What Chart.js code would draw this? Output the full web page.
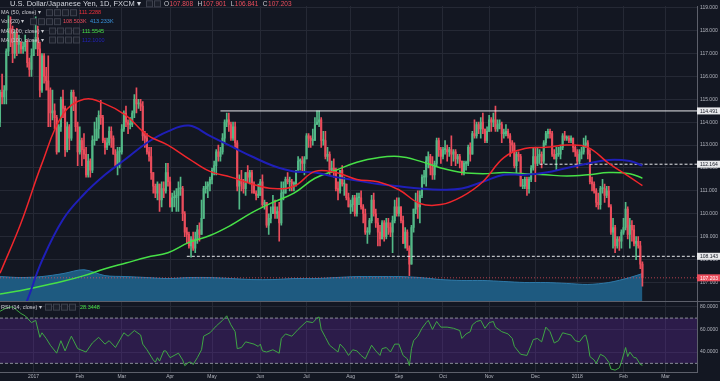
<!DOCTYPE html>
<html>
<head>
<meta charset="utf-8">
<title>U.S. Dollar/Japanese Yen, 1D, FXCM</title>
<script src="https://cdn.jsdelivr.net/npm/chart.js@4/dist/chart.umd.min.js"></script>
<style>
html,body{margin:0;padding:0;background:#131722;overflow:hidden;}
canvas{display:block;}
</style>
</head>
<body>
<canvas id="chart" width="720" height="381"></canvas>
<script>
// ================= DATA =================
const monthLabels   = ['2017','Feb','Mar','Apr','May','Jun','Jul','Aug','Sep','Oct','Nov','Dec','2018','Feb','Mar'];
const monthStartBar = [16, 38, 58, 81, 101, 124, 146, 167, 190, 211, 233, 255, 275, 297, 317];

// daily candles, 9 Dec 2016 .. 14 Feb 2018
const opens = [
114.0,115.3,115.1,115.4,117.1,118.1,117.9,117.0,117.9,117.4,117.5,117.2,117.3,117.5,116.6,116.3,
116.9,117.5,117.7,117.2,115.4,116.9,116.0,115.8,115.4,114.4,114.5,114.2,112.7,113.8,115.0,114.6,112.8,113.8,113.3,115.3,115.1,113.8,
112.7,113.2,112.8,112.6,111.7,112.3,111.9,113.2,113.2,113.7,114.3,114.2,113.2,112.9,113.1,113.6,113.3,112.6,112.1,112.7,
112.7,113.7,114.4,114.0,113.9,113.9,114.4,115.0,114.8,114.8,114.7,113.4,113.3,112.7,112.5,111.8,111.2,110.9,111.3,110.6,111.1,111.0,111.8,
111.4,110.3,110.7,110.7,110.8,111.1,111.1,110.0,109.2,109.1,108.6,108.9,108.5,108.9,109.3,109.1,109.8,111.1,111.2,111.3,
111.5,111.9,112.1,112.7,112.5,112.7,113.3,114.0,114.1,113.9,113.3,113.8,113.1,111.2,111.5,111.3,111.1,111.8,111.6,111.8,111.3,110.9,110.8,
110.8,111.4,110.4,110.5,109.5,109.8,110.0,110.3,110.0,110.1,109.6,110.9,110.9,111.5,111.4,111.4,111.3,111.3,111.9,112.3,112.3,112.2,
112.4,113.4,113.3,113.2,113.2,113.9,114.0,114.1,113.2,113.2,112.5,112.6,111.9,112.0,111.9,111.1,111.0,111.9,111.3,111.3,110.7,
110.3,110.4,110.7,110.0,110.7,110.7,110.3,110.0,109.2,109.2,109.7,110.6,110.0,109.6,109.2,108.9,109.6,109.0,109.6,109.4,109.2,109.7,110.3,
110.0,110.3,109.7,108.7,109.2,108.5,107.8,109.4,110.2,110.5,110.3,110.8,111.6,111.6,112.3,112.5,112.0,111.7,112.2,113.2,112.8,
112.5,112.8,112.8,112.7,112.8,112.6,112.7,112.4,112.5,112.3,111.8,112.2,112.2,112.9,112.6,113.5,113.4,113.9,113.7,114.0,113.7,113.2,
113.6,114.1,114.0,114.1,113.7,113.9,113.9,113.5,113.5,113.6,113.4,113.1,113.0,112.1,112.6,112.5,111.2,111.2,111.5,111.1,111.5,112.0,
112.5,112.2,112.5,112.6,112.3,113.1,113.5,113.6,113.5,112.6,112.4,112.6,112.6,112.9,113.4,113.3,113.3,113.2,113.3,112.9,
112.7,112.3,112.6,112.7,113.0,113.1,112.6,111.4,111.3,111.0,110.5,110.4,111.1,111.1,110.8,111.0,110.3,109.2,109.4,108.6,108.9,108.8,
109.2,109.4,110.2,109.1,109.5,109.3,108.7,108.8,108.6,107.808];
const highs = [
115.4,116.1,115.6,117.2,118.66,118.6,118.2,118.0,118.1,117.8,117.5,117.5,117.8,117.6,116.8,117.2,
117.6,118.6,118.2,117.5,117.0,117.0,116.4,116.9,115.5,115.4,114.8,114.3,113.9,115.1,115.4,114.7,114.0,113.9,115.4,115.4,115.1,114.0,
113.8,113.3,113.5,112.9,112.6,112.4,113.4,114.0,114.2,114.5,114.95,114.3,113.3,113.3,113.8,113.8,113.4,112.8,112.9,112.9,
113.9,114.5,114.7,114.1,114.2,114.5,115.2,115.5,115.0,115.0,114.9,113.6,113.5,112.9,112.9,111.8,111.3,111.4,111.3,111.4,111.4,112.2,112.2,
111.6,110.9,111.0,111.1,111.4,111.6,111.2,110.1,109.4,109.2,109.0,109.2,109.2,109.5,109.6,110.6,111.2,111.4,111.4,111.6,
112.0,112.3,112.8,113.0,112.9,113.5,114.1,114.4,114.4,114.0,114.0,114.0,113.2,111.7,111.9,111.5,111.8,112.1,111.9,111.9,111.4,111.0,111.3,
111.5,111.7,110.6,110.5,110.0,110.3,110.8,110.6,110.3,110.5,111.4,111.4,111.6,111.8,111.6,111.5,111.4,111.9,112.5,112.4,112.5,112.5,
113.5,113.5,113.4,113.7,114.2,114.5,114.5,114.2,113.6,113.6,112.9,112.7,112.3,112.4,112.0,111.4,111.9,112.1,111.6,111.3,110.9,
110.6,110.8,110.8,110.9,110.9,111.0,110.4,110.2,109.4,109.8,110.8,110.9,110.2,109.8,109.5,109.7,109.7,109.8,109.8,109.6,109.9,110.6,110.7,
110.7,110.3,109.9,109.4,109.3,108.6,109.5,110.2,110.9,111.0,111.0,111.7,111.9,112.5,112.7,112.6,112.5,112.3,113.3,113.3,112.9,
112.9,113.2,113.0,112.9,113.4,112.8,112.8,112.6,112.6,112.3,112.3,112.3,113.0,113.1,113.6,114.1,114.0,114.0,114.2,114.4,113.7,113.8,
114.3,114.2,114.4,114.7,114.1,114.1,114.0,113.7,113.9,113.7,113.5,113.2,113.1,112.7,112.7,112.6,111.5,111.6,111.6,111.6,112.1,112.9,
112.9,112.9,112.8,112.7,113.2,113.6,113.7,113.7,113.6,112.8,112.9,112.9,113.0,113.5,113.6,113.4,113.4,113.4,113.3,113.0,
112.8,112.8,112.9,113.3,113.4,113.2,112.8,111.6,111.4,111.1,110.9,111.2,111.5,111.3,111.2,111.2,110.4,109.8,109.5,109.0,109.0,109.3,
109.8,110.5,110.3,109.8,109.7,109.5,109.0,109.0,108.8,107.901];
const lows = [
113.8,114.8,114.8,114.8,116.9,117.3,116.6,116.8,116.9,117.0,117.0,117.0,117.1,116.4,116.0,116.0,
116.9,117.2,116.9,115.1,115.3,115.7,115.4,113.8,113.8,114.1,113.7,112.6,112.7,113.6,114.2,112.5,112.7,112.8,113.2,114.5,113.6,112.1,
112.6,112.1,112.4,111.6,111.6,111.6,111.8,113.0,113.2,113.3,113.9,113.1,112.6,112.8,113.0,112.9,112.6,112.1,111.7,112.0,
112.6,113.6,113.8,113.5,113.7,113.8,114.2,114.4,114.6,114.5,113.2,112.9,112.6,112.3,111.5,110.9,110.7,110.6,110.1,110.3,110.7,110.9,111.2,
110.3,110.1,110.3,110.1,110.1,110.8,109.7,109.0,108.7,108.5,108.1,108.4,108.3,108.7,108.8,109.1,109.8,110.9,110.7,111.0,
111.3,111.7,111.7,112.3,112.3,112.6,113.1,113.8,113.6,113.2,113.2,112.9,111.0,110.2,111.0,110.9,110.8,111.4,111.3,110.9,110.9,110.6,110.7,
110.8,110.3,110.2,109.4,109.1,109.6,110.0,109.8,109.8,108.8,109.5,110.6,110.9,111.3,111.0,111.0,111.0,111.2,111.9,111.9,111.8,111.7,
112.4,112.9,112.9,113.0,113.2,113.9,113.8,112.9,113.0,112.4,112.3,111.7,111.8,111.6,111.0,110.6,110.9,111.2,110.8,110.6,110.3,
110.0,110.1,109.9,109.9,110.4,110.2,109.6,109.1,108.7,109.1,109.6,109.9,109.4,108.6,108.6,108.9,108.8,108.9,109.1,109.0,108.3,109.6,109.9,
109.9,109.6,108.7,108.5,108.4,107.3,107.8,109.2,110.0,109.8,109.6,110.7,111.3,111.2,112.0,111.7,111.5,111.5,112.1,112.5,112.2,
112.4,112.6,112.3,112.5,112.1,112.3,112.1,112.2,112.0,111.7,111.7,111.9,112.1,112.3,112.6,113.3,113.3,113.5,113.3,113.5,113.1,113.1,
113.6,113.6,113.8,113.6,113.6,113.7,113.1,113.3,113.4,113.3,112.5,112.7,112.0,111.8,112.3,111.2,111.1,111.1,110.8,110.9,111.4,111.9,
111.4,112.1,112.2,112.0,112.2,113.0,113.3,113.3,112.5,112.4,111.9,112.5,112.4,112.8,113.2,113.2,113.1,113.1,112.7,112.5,
112.0,112.1,112.4,112.6,112.9,112.4,111.3,111.0,110.9,110.3,110.2,110.2,110.9,110.5,110.7,110.3,109.1,108.5,108.3,108.5,108.4,108.5,
109.1,109.3,108.9,108.5,108.8,108.6,108.0,108.5,107.6,106.841];
const closes = [
115.3,115.1,115.4,117.1,118.1,117.9,117.0,117.9,117.4,117.5,117.2,117.3,117.5,116.6,116.3,116.9,
117.5,117.7,117.2,115.4,116.9,116.0,115.8,115.4,114.4,114.5,114.2,112.7,113.8,115.0,114.6,112.8,113.8,113.3,115.3,115.1,113.8,112.7,
113.2,112.8,112.6,111.7,112.3,111.9,113.2,113.2,113.7,114.3,114.2,113.2,112.9,113.1,113.6,113.3,112.6,112.1,112.7,112.7,
113.7,114.4,114.0,113.9,113.9,114.4,115.0,114.8,114.8,114.7,113.4,113.3,112.7,112.5,111.8,111.2,110.9,111.3,110.6,111.1,111.0,111.8,111.4,
110.3,110.7,110.7,110.8,111.1,111.1,110.0,109.2,109.1,108.6,108.9,108.5,108.9,109.3,109.1,109.8,111.1,111.2,111.3,111.5,
111.9,112.1,112.7,112.5,112.7,113.3,114.0,114.1,113.9,113.3,113.8,113.1,111.2,111.5,111.3,111.1,111.8,111.6,111.8,111.3,110.9,110.8,110.8,
111.4,110.4,110.5,109.5,109.8,110.0,110.3,110.0,110.1,109.6,110.9,110.9,111.5,111.4,111.4,111.3,111.3,111.9,112.3,112.3,112.2,112.4,
113.4,113.3,113.2,113.2,113.9,114.0,114.1,113.2,113.2,112.5,112.6,111.9,112.0,111.9,111.1,111.0,111.9,111.3,111.3,110.7,110.3,
110.4,110.7,110.0,110.7,110.7,110.3,110.0,109.2,109.2,109.7,110.6,110.0,109.6,109.2,108.9,109.6,109.0,109.6,109.4,109.2,109.7,110.3,110.0,
110.3,109.7,108.7,109.2,108.5,107.8,109.4,110.2,110.5,110.3,110.8,111.6,111.6,112.3,112.5,112.0,111.7,112.2,113.2,112.8,112.5,
112.8,112.8,112.7,112.8,112.6,112.7,112.4,112.5,112.3,111.8,112.2,112.2,112.9,112.6,113.5,113.4,113.9,113.7,114.0,113.7,113.2,113.6,
114.1,114.0,114.1,113.7,113.9,113.9,113.5,113.5,113.6,113.4,113.1,113.0,112.1,112.6,112.5,111.2,111.2,111.5,111.1,111.5,112.0,112.5,
112.2,112.5,112.6,112.3,113.1,113.5,113.6,113.5,112.6,112.4,112.6,112.6,112.9,113.4,113.3,113.3,113.2,113.3,112.9,112.7,
112.3,112.6,112.7,113.0,113.1,112.6,111.4,111.3,111.0,110.5,110.4,111.1,111.1,110.8,111.0,110.3,109.2,109.4,108.6,108.9,108.8,109.2,
109.4,110.2,109.1,109.5,109.3,108.7,108.8,108.6,107.8,107.203];

// moving averages and volume MA, every 10th bar (plus the last bar)
const maBars = [0,10,20,30,40,50,60,70,80,90,100,110,120,130,140,150,160,170,180,190,200,210,220,230,240,250,260,270,280,290,300,306];
const ma50  = [107.4,109.6,112.2,114.35,115.0,114.8,114.3,113.45,113.0,112.4,111.85,111.6,111.3,111.1,111.2,111.85,111.8,111.5,111.4,111.05,110.45,110.4,110.75,111.4,112.45,112.85,112.9,113.0,112.9,112.2,111.6,111.2288];
const ma100 = [104.3,105.6,107.95,109.75,110.85,111.7,112.4,113.1,113.6,113.85,113.4,112.95,112.5,112.1,111.85,111.8,111.6,111.45,111.3,111.2,111.1,111.05,111.1,111.4,111.7,111.7,111.8,112.0,112.2,112.35,112.3,112.1];
const ma200 = [106.5,106.65,106.85,107.05,107.3,107.6,107.85,108.1,108.3,108.75,109.05,109.5,110.05,110.5,110.9,111.55,111.9,112.25,112.45,112.5,112.3,112.0,111.8,111.75,111.8,111.75,111.7,111.65,111.7,111.8,111.75,111.5545];
const volMA = [368,353,368,412,470,382,368,353,338,353,353,338,323,323,338,338,353,368,368,368,353,323,309,309,294,279,279,265,250,279,353,413.233];

// RSI(14)
const rsiBars = [0,3,6,8,10,12,15,17,19,20,22,24,27,29,31,33,34,37,41,44,47,50,52,55,59,61,64,67,68,70,
 73,74,75,76,78,79,81,85,87,88,90,91,92,94,96,97,100,103,106,108,110,112,113,115,117,119,121,123,124,125,
 127,130,133,134,136,139,142,146,149,151,152,153,155,157,159,161,162,164,166,168,170,172,174,177,179,181,182,184,186,188,
 190,192,194,195,196,197,199,201,203,204,206,208,210,213,216,219,220,222,224,225,227,229,231,233,235,236,239,242,244,245,
 248,251,253,254,256,258,260,262,264,266,268,270,272,274,276,278,279,280,281,283,284,286,288,290,291,293,295,296,298,299,
 300,302,303,305,306];
const rsi = [76,79,80,77,74,72,66,68,53,57,52,46,39,50,41,50,54,43,40,48,53,47,50,44,57,54,59,55,47,42,
 33,31,35,32,41,41,35,39,33,28,31,31,29,35,42,54,57,63,68,72,64,58,43,44,49,48,47,45,47,41,
 40,42,39,52,56,54,60,67,66,70,71,60,53,46,43,40,47,43,37,42,41,37,34,46,41,37,43,44,40,47,
 47,37,34,28,43,50,54,61,66,68,60,67,62,62,61,59,52,56,58,64,67,68,61,66,67,62,58,56,52,45,
 38,37,46,51,52,49,62,58,48,50,57,56,55,50,49,54,55,48,36,33,30,38,36,31,25,24,26,31,44,36,
 40,35,35,29,28.3448];

const priceTicks = [107,108,109,110,111,112,113,114,115,116,117,118,119];
const rsiTicks = [40,60,80];
const rsiBands = [70,30];
const levelPrices = [114.491,112.164,108.143];
const levelFromBar = [105,257,89];

const ohlcLast = {O:'107.808', H:'107.901', L:'106.841', C:'107.203'};
const legendVol = ['108.503K','413.233K'];

// ================= CHART =================
const UP = '#53b987', DOWN = '#eb4d5c';
const X_MIN = 0, X_MAX = 332;
const FONT = '"Liberation Sans", Arial, sans-serif';
const lastBar = closes.length - 1;
const candleCol = closes.map((c, i) => c >= opens[i] ? UP : DOWN);
const pts = (xs, ys) => xs.map((x, k) => ({x: x, y: ys[k]}));
const hline = (v, from) => [{x: from, y: v}, {x: X_MAX, y: v}];

Chart.defaults.font.family = FONT;

const bgPlugin = {
  id: 'bg',
  beforeDraw(chart) {
    const c = chart.ctx;
    c.save();
    c.fillStyle = '#131722';
    c.fillRect(0, 0, chart.width, chart.height);
    c.restore();
  }
};

function iconRow(c, x0, y, n) {
  for (let k = 0; k < n; k++) {
    const x = x0 + k * 8;
    c.fillStyle = '#1c202b';
    c.strokeStyle = '#3d414d';
    c.lineWidth = 1;
    c.fillRect(x + 0.5, y - 3, 6, 6);
    c.strokeRect(x + 0.5, y - 3, 6, 6);
  }
}

const overlayPlugin = {
  id: 'overlay',
  afterDraw(chart) {
    const c = chart.ctx;
    const ca = chart.chartArea;
    const yP = chart.scales.y, yR = chart.scales.yR;
    c.save();
    c.strokeStyle = '#5d606b';
    c.lineWidth = 1;
    c.beginPath();
    c.moveTo(ca.left, Math.round(yP.bottom) + 0.5);
    c.lineTo(chart.width, Math.round(yP.bottom) + 0.5);
    c.stroke();

    const box = (v, bg, fg) => {
      const y = yP.getPixelForValue(v);
      c.fillStyle = bg;
      c.fillRect(ca.right, y - 3.5, chart.width - ca.right, 7);
      c.fillStyle = fg;
      c.font = '5px ' + FONT;
      c.textBaseline = 'middle';
      c.textAlign = 'left';
      c.fillText(v.toFixed(3), ca.right + 3, y + 0.3);
    };
    levelPrices.forEach(v => box(v, '#e8e9ec', '#131722'));
    box(closes[lastBar], '#eb4d5c', '#ffffff');

    c.textBaseline = 'middle';
    c.textAlign = 'left';
    c.font = '7.5px ' + FONT;
    c.fillStyle = '#d1d4dc';
    c.fillText('U.S. Dollar/Japanese Yen, 1D, FXCM \u25BE', 10, 3.8);
    iconRow(c, 146, 3.8, 2);
    c.font = '6.5px ' + FONT;
    let x = 164;
    [['O', ohlcLast.O], ['H', ohlcLast.H], ['L', ohlcLast.L], ['C', ohlcLast.C]].forEach(([k, v]) => {
      c.fillStyle = '#c8cad0';
      c.fillText(k, x, 3.8);
      const w = c.measureText(k).width;
      c.fillStyle = '#eb4d5c';
      c.fillText(v, x + w + 0.5, 3.8);
      x += w + c.measureText(v).width + 5;
    });

    c.font = '5.5px ' + FONT;
    const row = (label, y, iconX, vals) => {
      c.fillStyle = '#c8cad0';
      c.fillText(label + ' \u25BE', 1, y);
      iconRow(c, iconX, y, 4);
      vals.forEach(([tx, col, vx]) => { c.fillStyle = col; c.fillText(tx, vx, y); });
    };
    row('MA (50, close)', 12.7, 46, [[ma50[ma50.length - 1].toFixed(4), '#f0313a', 79]]);
    row('Vol (20)', 21.7, 30, [[legendVol[0], '#eb4d5c', 63], [legendVol[1], '#3a95e0', 90]]);
    row('MA (200, close)', 31, 49, [[ma200[ma200.length - 1].toFixed(4), '#47e047', 82]]);
    row('MA (100, close)', 40, 49, [[ma100[ma100.length - 1].toFixed(4), '#2323b8', 82]]);
    row('RSI (14, close)', yR.top + 6, 45, [[rsi[rsi.length - 1].toFixed(4), '#47e047', 80]]);
    c.restore();
  }
};

const datasets = [
  {type: 'line', label: 'Vol MA', yAxisID: 'yVol', data: pts(maBars, volMA),
   borderColor: '#2d79a8', borderWidth: 1, backgroundColor: '#1e5a80', fill: 'origin',
   pointRadius: 0, tension: 0.3, order: 20},
  {type: 'line', label: 'RSI upper', yAxisID: 'yR', data: hline(rsiBands[0], X_MIN),
   borderColor: '#8a8d96', borderWidth: 1, borderDash: [3, 2], pointRadius: 0,
   fill: {value: rsiBands[1]}, backgroundColor: 'rgba(110,44,180,0.28)', order: 19},
  {type: 'line', label: 'RSI lower', yAxisID: 'yR', data: hline(rsiBands[1], X_MIN),
   borderColor: '#8a8d96', borderWidth: 1, borderDash: [3, 2], pointRadius: 0, fill: false, order: 18},
  {type: 'line', label: 'RSI', yAxisID: 'yR', data: pts(rsiBars, rsi),
   borderColor: '#3fa645', borderWidth: 1, pointRadius: 0, tension: 0, fill: false, order: 1},
  {type: 'bar', label: 'wicks', yAxisID: 'y', grouped: false, barThickness: 1,
   data: closes.map((c, i) => ({x: i, y: [lows[i], highs[i]]})),
   backgroundColor: candleCol, borderWidth: 0, order: 12},
  {type: 'bar', label: 'bodies', yAxisID: 'y', grouped: false, barThickness: 1.4, minBarLength: 1,
   data: closes.map((c, i) => ({x: i, y: [opens[i], c]})),
   backgroundColor: candleCol, borderWidth: 0, order: 11},
  {type: 'line', label: 'last', yAxisID: 'y', data: hline(closes[lastBar], X_MIN),
   borderColor: 'rgba(235,77,92,0.75)', borderWidth: 1, borderDash: [1, 2], pointRadius: 0, fill: false, order: 10},
  {type: 'line', label: 'L1', yAxisID: 'y', data: hline(levelPrices[0], levelFromBar[0]),
   borderColor: '#e8e9ec', borderWidth: 1, pointRadius: 0, fill: false, order: 9},
  {type: 'line', label: 'L2', yAxisID: 'y', data: hline(levelPrices[1], levelFromBar[1]),
   borderColor: '#e8e9ec', borderWidth: 1, borderDash: [3, 2], pointRadius: 0, fill: false, order: 9},
  {type: 'line', label: 'L3', yAxisID: 'y', data: hline(levelPrices[2], levelFromBar[2]),
   borderColor: '#e8e9ec', borderWidth: 1, borderDash: [3, 2], pointRadius: 0, fill: false, order: 9},
  {type: 'line', label: 'MA200', yAxisID: 'y', data: pts(maBars, ma200),
   borderColor: '#47e047', borderWidth: 1.5, pointRadius: 0, tension: 0.4, fill: false, order: 5},
  {type: 'line', label: 'MA100', yAxisID: 'y', data: pts(maBars, ma100),
   borderColor: '#1f1fb8', borderWidth: 2, pointRadius: 0, tension: 0.4, fill: false, order: 4},
  {type: 'line', label: 'MA50', yAxisID: 'y', data: pts(maBars, ma50),
   borderColor: '#f0262c', borderWidth: 1.5, pointRadius: 0, tension: 0.4, fill: false, order: 3}
];

new Chart(document.getElementById('chart'), {
  type: 'bar',
  data: {datasets: datasets},
  plugins: [bgPlugin, overlayPlugin],
  options: {
    responsive: false,
    animation: false,
    devicePixelRatio: 1,
    layout: {padding: 0},
    plugins: {legend: {display: false}, tooltip: {enabled: false}},
    scales: {
      x: {
        type: 'linear', position: 'bottom', min: X_MIN, max: X_MAX, offset: false,
        afterBuildTicks: s => { s.ticks = monthStartBar.map(v => ({value: v})); },
        afterFit: s => { s.height = 9; },
        ticks: {autoSkip: false, maxRotation: 0, padding: 2, color: '#b2b5be', font: {size: 5},
                callback: (v, i) => monthLabels[i]},
        grid: {color: '#252935', drawTicks: false, offset: false},
        border: {display: true, color: '#5d606b'}
      },
      y: {
        type: 'linear', position: 'right', stack: 'pane', stackWeight: 300,
        min: 106.184, max: 119.073,
        afterBuildTicks: s => { s.ticks = priceTicks.map(v => ({value: v})); },
        afterFit: s => { s.width = 23; },
        ticks: {autoSkip: false, padding: 3, color: '#b2b5be', font: {size: 5}, callback: v => v.toFixed(3)},
        grid: {color: '#252935', drawTicks: false},
        border: {display: true, color: '#5d606b'}
      },
      yR: {
        type: 'linear', position: 'right', stack: 'pane', stackWeight: 72,
        min: 22.35, max: 84.96,
        afterBuildTicks: s => { s.ticks = rsiTicks.map(v => ({value: v})); },
        afterFit: s => { s.width = 23; },
        ticks: {autoSkip: false, padding: 3, color: '#b2b5be', font: {size: 5}, callback: v => v.toFixed(4)},
        grid: {color: '#252935', drawTicks: false},
        border: {display: true, color: '#5d606b'}
      },
      yVol: {
        type: 'linear', position: 'left', display: false, min: -1058, max: 4410
      }
    }
  }
});
</script>
</body>
</html>
